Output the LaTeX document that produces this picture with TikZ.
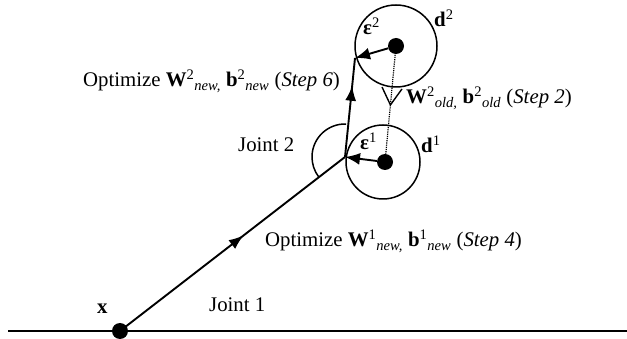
\documentclass[tikz,border=0pt]{standalone}
\usepackage{fontspec}
\setmainfont{Liberation Serif}
\usetikzlibrary{arrows.meta,decorations.markings}
\newcommand{\vb}[3]{\textbf{#1}\textsuperscript{#2}\textsubscript{\textit{#3}}}
\begin{document}
\begin{tikzpicture}[x=1pt,y=-1pt,
  link/.style={line width=1.9pt},
  ring/.style={circle,draw,line width=1.5pt,inner sep=0pt},
  blob/.style={circle,fill,inner sep=0pt,minimum size=16pt},
  lbl/.style={anchor=base west,inner sep=0pt,font=\fontsize{20.8}{24}\selectfont},
  midarrow/.style={postaction={decorate},decoration={markings,
    mark=at position #1 with {\arrow{Latex[length=15pt,width=11pt]}}}},
  vmark/.style={postaction={decorate},decoration={markings,
    mark=at position #1 with {\arrow[solid,line width=1.4pt]{Straight Barb[length=17pt,width=20pt]}}}}
]
\useasboundingbox (0,0) rectangle (627,339);
% ground
\coordinate (g1) at (8,331);
\coordinate (g2) at (627,331);
\draw[link] (g1) -- (g2);
% nodes
\node[blob] (x) at (120,331) {};
\coordinate (j2) at (345,157);
\coordinate (e2) at (355,58);
\node[ring,minimum size=82pt] (c2) at (396,46) {};
\node[ring,minimum size=74pt] (c1) at (383,162) {};
\node[blob] (d2) at (396,46) {};
\node[blob] (d1) at (385,162) {};
% links
\draw[link,midarrow=0.55] (x.center) -- (j2);
\draw[link,midarrow=0.72] (j2) -- (e2);
% joint arc
\draw[line width=1.5pt] (j2) ++(-88:33) arc[start angle=-88,end angle=-218,radius=33];
% error vectors
\draw[link,-{Latex[length=15pt,width=12pt]}] (d1) -- (j2);
\draw[link,-{Latex[length=15pt,width=12pt]}] (d2) -- (e2);
% dotted
\draw[densely dotted,line width=1.2pt,vmark=0.52] (d2.center) -- (d1.center);
% labels
\node[lbl] (lx) at (97,314) {\textbf{x}};
\node[lbl] (lj1) at (209,312) {Joint 1};
\node[lbl] (lj2) at (238,152) {Joint 2};
\node[lbl] (lo1) at (265,247) {Optimize \vb{W}{1}{new,} \vb{b}{1}{new} (\textit{Step 4})};
\node[lbl] (lo2) at (83,87) {Optimize \vb{W}{2}{new,} \vb{b}{2}{new} (\textit{Step 6})};
\node[lbl] (lo3) at (406,104) {\vb{W}{2}{old,} \vb{b}{2}{old} (\textit{Step 2})};
\node[lbl] (le2) at (363,35) {\textbf{ε}\textsuperscript{2}};
\node[lbl] (ld2) at (434,27) {\textbf{d}\textsuperscript{2}};
\node[lbl] (le1) at (360,150) {\textbf{ε}\textsuperscript{1}};
\node[lbl] (ld1) at (421,153) {\textbf{d}\textsuperscript{1}};
\end{tikzpicture}
\end{document}
